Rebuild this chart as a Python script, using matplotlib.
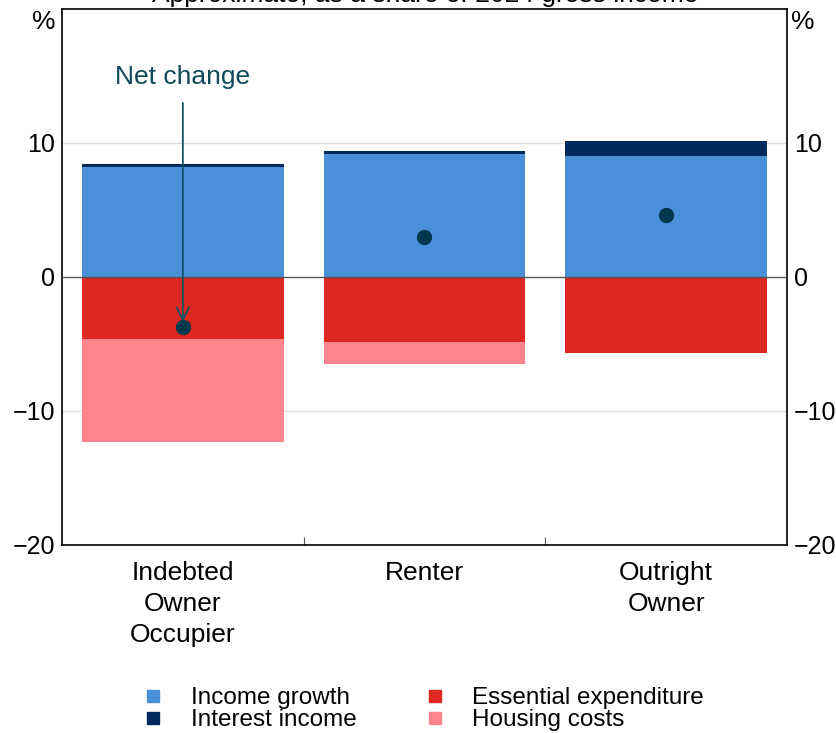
"""
Household budget changes by housing tenure, as a share of 2024 gross income.
Stacked bars for each component with a dot marking the net change.
"""

import matplotlib.pyplot as plt
from matplotlib.lines import Line2D

plt.rcParams["font.family"] = ["Liberation Sans", "DejaVu Sans"]

# Data (percent of 2024 gross income)
categories = ["Indebted\nOwner\nOccupier", "Renter", "Outright\nOwner"]
income_growth = [8.24, 9.21, 9.06]
interest_income = [0.22, 0.22, 1.12]
essential_exp = [-4.62, -4.87, -5.69]
housing_costs = [-7.66, -1.62, 0.0]
net_change = [-3.75, 3.0, 4.64]
yticks = [-20, -10, 0, 10]

C_INCOME = "#4a90d9"
C_INTEREST = "#002a5c"
C_ESSENTIAL = "#dc2820"
C_HOUSING = "#ff838a"
C_NET = "#00394d"
FS = 19

W, H = 837, 733
fig = plt.figure(figsize=(W / 100, H / 100), dpi=100)
ax = fig.add_axes([62 / W, 1 - 545 / H, (787 - 62) / W, (545 - 9) / H])

x = list(range(len(categories)))
bw = 0.835

# --- Stacked bars ---
ax.bar(x, income_growth, bw, color=C_INCOME, zorder=2)
ax.bar(x, interest_income, bw, bottom=income_growth, color=C_INTEREST, zorder=2)
ax.bar(x, essential_exp, bw, color=C_ESSENTIAL, zorder=2)
ax.bar(x, housing_costs, bw, bottom=essential_exp, color=C_HOUSING, zorder=2)
ax.plot(x, net_change, "o", color=C_NET, ms=10, zorder=4)

# --- Axes styling ---
ax.set_xlim(-0.5, 2.5)
ax.set_ylim(-20, 20)
ax.set_yticks(yticks)
ax.set_yticklabels(["\u221220", "\u221210", "0", "10"])
ax.tick_params(axis="y", length=0, labelsize=18, pad=5,
               left=True, right=True, labelleft=True, labelright=True)
for yv in [-10, 10]:
    ax.axhline(yv, color="#dddddd", lw=1, zorder=1)
ax.axhline(0, color="#555555", lw=1, zorder=3)

ax.set_xticks([0.5, 1.5])
ax.set_xticklabels([])
ax.tick_params(axis="x", direction="in", length=6, color="#555555")
for i, lab in enumerate(categories):
    ax.text(i, -21.2, lab, ha="center", va="top", fontsize=FS,
            linespacing=1.36)
for s in ax.spines.values():
    s.set_linewidth(1.2)

fig.text(44 / W, 1 - 22 / H, "%", fontsize=FS, ha="center", va="center")
fig.text(803 / W, 1 - 22 / H, "%", fontsize=FS, ha="center", va="center")
# subtitle sits mostly above the canvas, as in the source image
fig.text(425 / W, 1 - 2 / H, "Approximate, as a share of 2024 gross income",
         fontsize=FS, ha="center", va="baseline")

# --- Annotation ---
ax.annotate("", xy=(0, net_change[0] + 0.2), xytext=(0, 13.2),
            arrowprops=dict(arrowstyle="->", color="#0e5266", lw=1.3,
                            mutation_scale=22), zorder=5)
ax.text(0, 14.9, "Net change", ha="center", va="center", fontsize=FS,
        color="#0e4a5a")

# --- Legend ---
handles = [
    Line2D([], [], ls="none", marker="s", ms=8, color=C_INCOME, label="Income growth"),
    Line2D([], [], ls="none", marker="s", ms=8, color=C_INTEREST, label="Interest income"),
    Line2D([], [], ls="none", marker="s", ms=8, color=C_ESSENTIAL, label="Essential expenditure"),
    Line2D([], [], ls="none", marker="s", ms=8, color=C_HOUSING, label="Housing costs"),
]
fig.legend(handles=handles, ncol=2, loc="upper left",
           bbox_to_anchor=(129 / W, 1 - 687 / H), frameon=False,
           fontsize=17.5, labelspacing=0.0, handletextpad=0.55,
           columnspacing=2.2, borderpad=0, borderaxespad=0)

fig.savefig("out.png", dpi=100)
